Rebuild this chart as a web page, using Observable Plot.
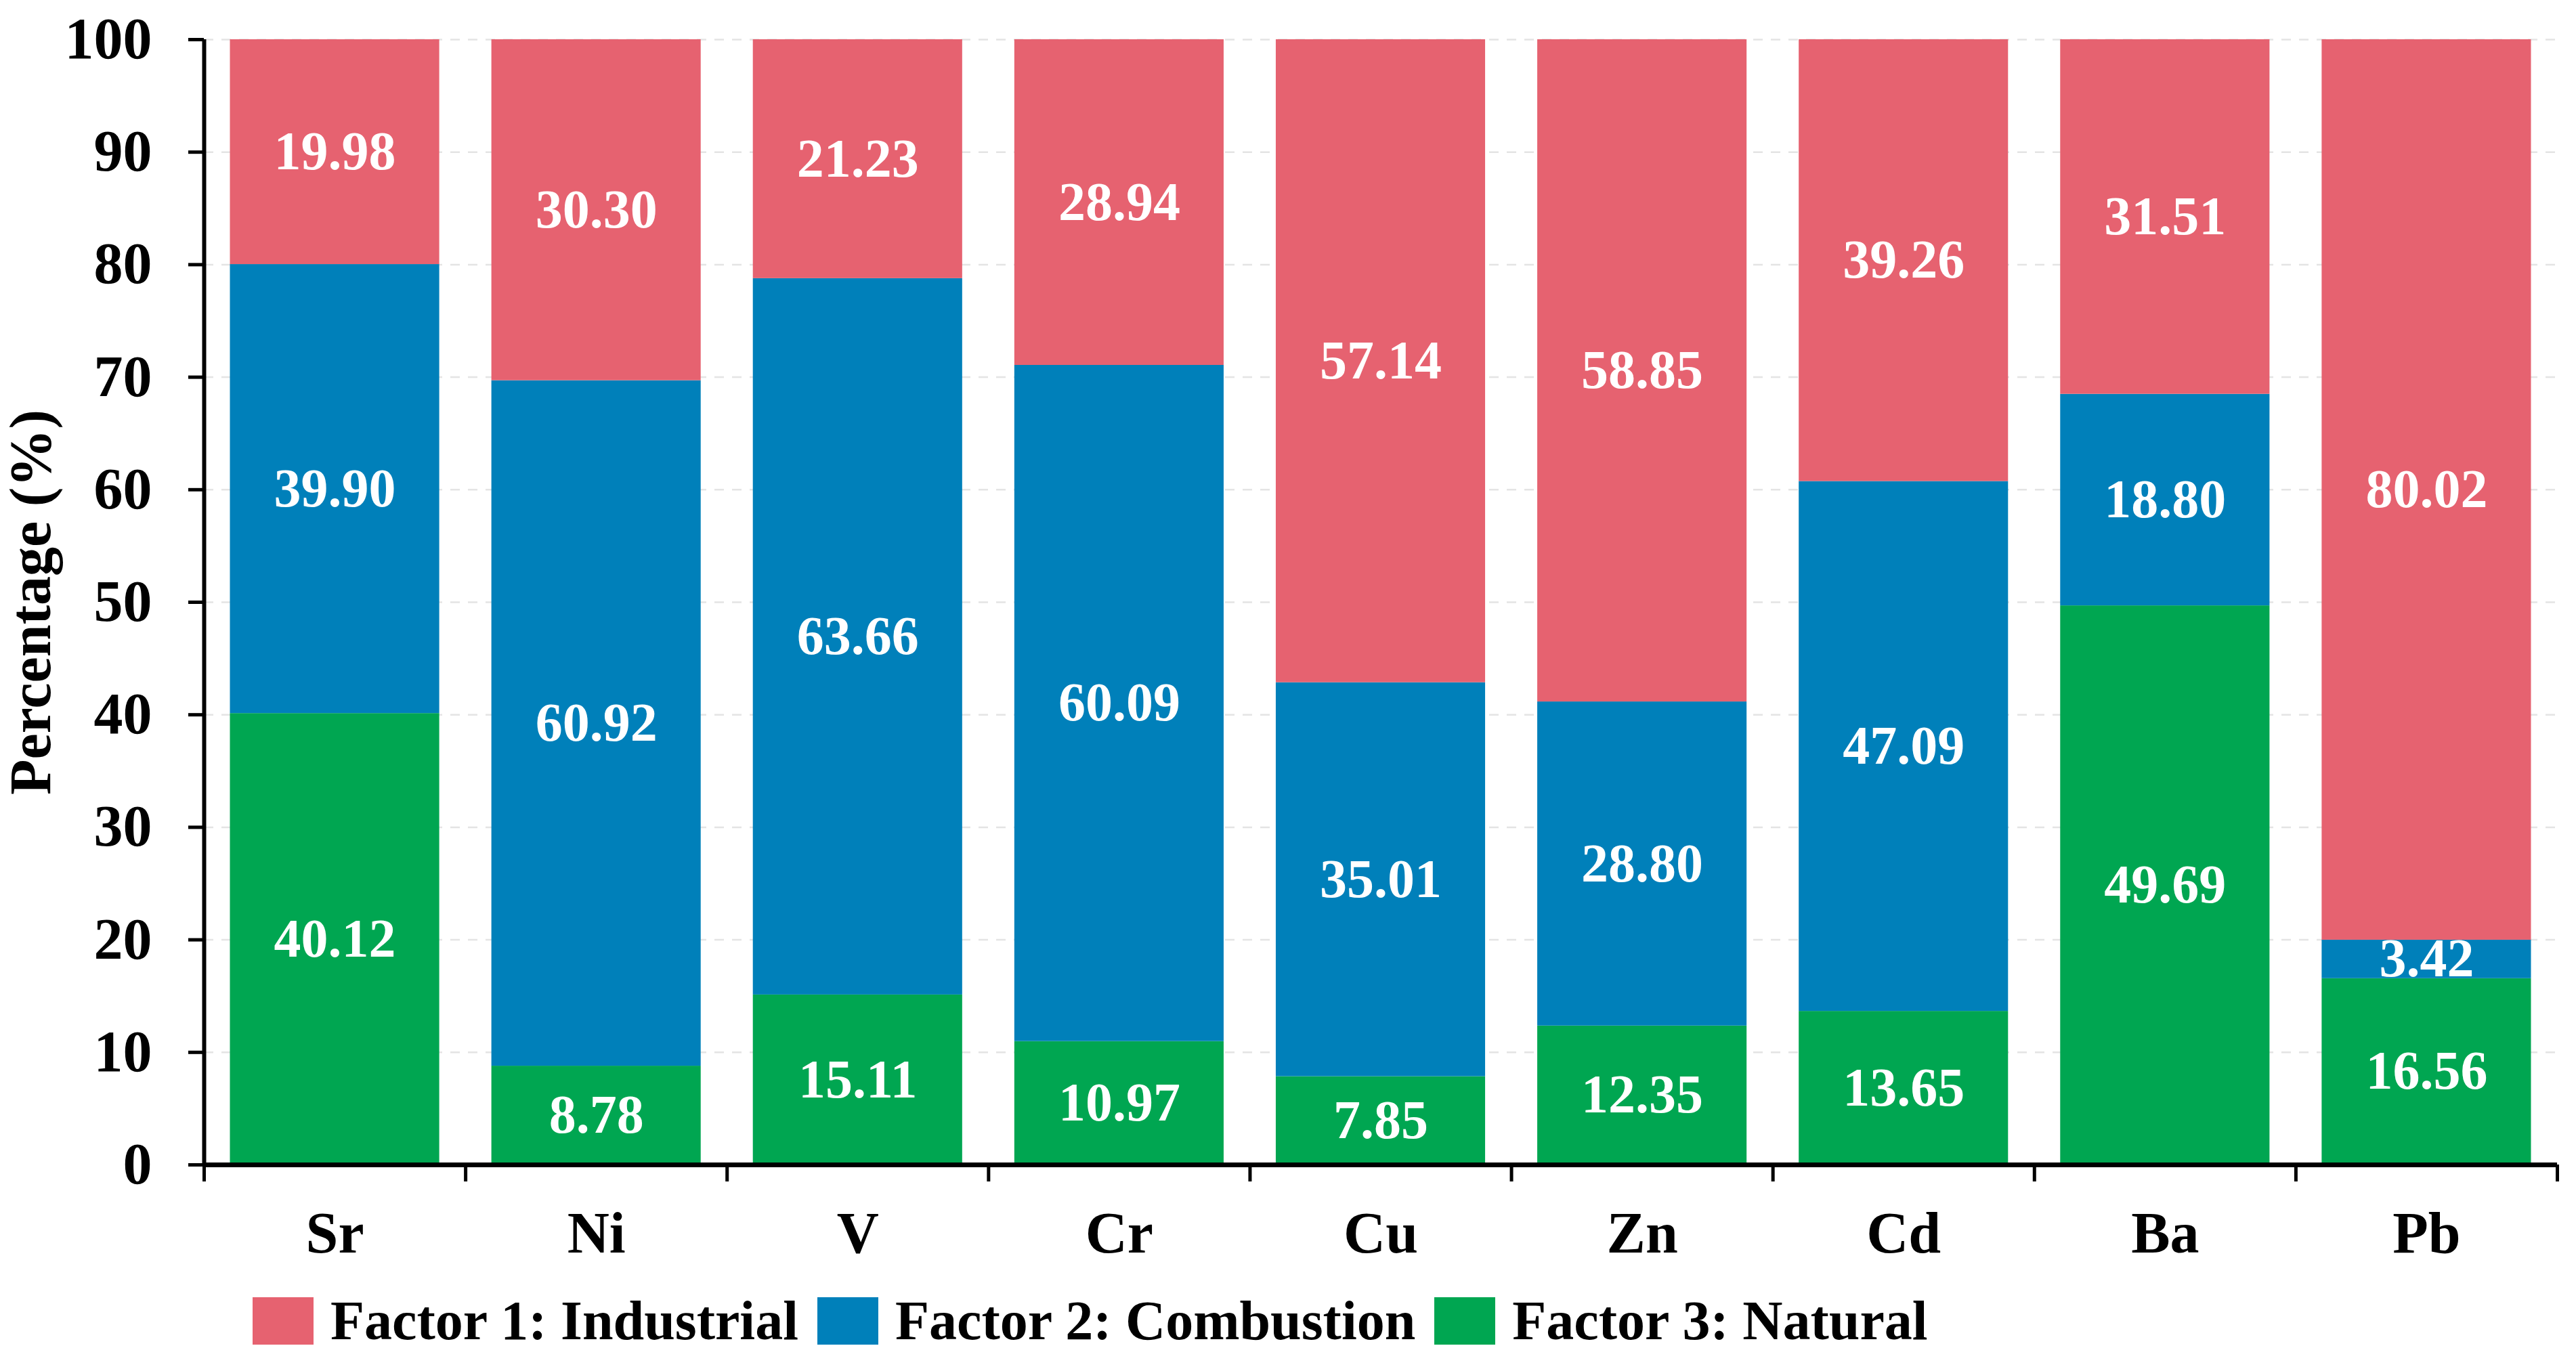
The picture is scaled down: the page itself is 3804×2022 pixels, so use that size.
<!DOCTYPE html>
<html><head><meta charset="utf-8">
<script src="https://cdn.jsdelivr.net/npm/d3@7"></script>
<script src="https://cdn.jsdelivr.net/npm/@observablehq/plot@0.6"></script>
<style>
html,body{margin:0;padding:0;background:#fff;}
#legend{display:flex;align-items:center;height:142px;padding-left:373px;font-family:'Liberation Serif','Times New Roman',serif;font-weight:bold;font-size:82px;line-height:1;color:#000;}
.sw{width:90px;height:70px;margin-right:25px;flex:none;}
.item{display:flex;align-items:center;margin-right:28px;white-space:nowrap;}
</style></head><body>
<div id="chart"></div>
<div id="legend"></div>
<script>
const elements = ["Sr","Ni","V","Cr","Cu","Zn","Cd","Ba","Pb"];
const industrial = [19.98,30.30,21.23,28.94,57.14,58.85,39.26,31.51,80.02];
const combustion = [39.90,60.92,63.66,60.09,35.01,28.80,47.09,18.80,3.42];
const natural = [40.12,8.78,15.11,10.97,7.85,12.35,13.65,49.69,16.56];
const factorNames = ["Factor 1: Industrial","Factor 2: Combustion","Factor 3: Natural"];
const factorColors = ["#E66270","#0080BA","#00A651"];
const yTicks = [0,10,20,30,40,50,60,70,80,90,100];

// stacking order bottom -> top: natural, combustion, industrial
const rows = [];
elements.forEach((el, i) => {
  rows.push({i, element: el, factor: factorNames[2], value: natural[i]});
  rows.push({i, element: el, factor: factorNames[1], value: combustion[i]});
  rows.push({i, element: el, factor: factorNames[0], value: industrial[i]});
});

const chart = Plot.plot({
  width: 3804, height: 1880,
  marginLeft: 301, marginRight: 28, marginTop: 58, marginBottom: 160,
  style: {fontFamily: "'Liberation Serif','Times New Roman',serif", fontWeight: "bold", background: "#fff", overflow: "visible", color: "#000"},
  x: {domain: [0, elements.length], axis: null},
  y: {domain: [0, 100], axis: null},
  color: {domain: factorNames, range: factorColors},
  marks: [
    Plot.gridY(yTicks, {stroke: "#e4e4e4", strokeOpacity: 1, strokeWidth: 2.5, strokeDasharray: "14,12"}),
    Plot.rectY(rows, {x: d => d.i, interval: 1, y: "value", z: "factor", fill: "factor", insetLeft: 38.5, insetRight: 38.5}),
    Plot.text(rows, Plot.stackY({x: d => d.i + 0.5, y: "value", z: "factor", text: d => d.value.toFixed(2), fill: "white", fontSize: 80, fontWeight: "bold"})),
    Plot.axisY({ticks: yTicks, tickSize: 23, tickPadding: 54, fontSize: 86, strokeWidth: 5, label: "Percentage (%)", labelAnchor: "center", labelArrow: "none", labelOffset: 289}),
    Plot.axisX({ticks: d3.range(0, elements.length + 1), tickSize: 25, strokeWidth: 5, tickFormat: () => "", label: null}),
    Plot.axisX({ticks: elements.map((e, i) => i + 0.5), tickSize: 0, tickPadding: 68, fontSize: 86, tickFormat: t => elements[Math.floor(t)], label: null}),
    Plot.ruleY([0], {strokeWidth: 7}),
    Plot.ruleX([0], {strokeWidth: 6})
  ]
});
document.getElementById("chart").appendChild(chart);

const legend = document.getElementById("legend");
factorNames.forEach((name, k) => {
  const item = document.createElement("div");
  item.className = "item";
  const sw = document.createElement("div");
  sw.className = "sw";
  sw.style.background = factorColors[k];
  const label = document.createElement("span");
  label.textContent = name;
  item.appendChild(sw);
  item.appendChild(label);
  legend.appendChild(item);
});
</script>
</body></html>
